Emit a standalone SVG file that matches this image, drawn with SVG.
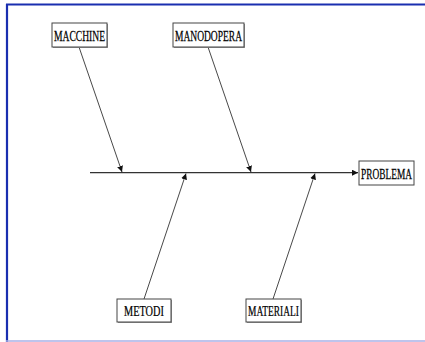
<svg xmlns="http://www.w3.org/2000/svg" width="425" height="342" viewBox="0 0 425 342">
<style>
.box{fill:#fff;stroke:#444;stroke-width:1}
.shadow{fill:#9a9a9a}
.lbl{font-family:"Liberation Serif","Times New Roman",serif;font-size:15px;fill:#000;stroke:#000;stroke-width:0.25;text-anchor:middle}
.conn{stroke:#333;stroke-width:0.9;fill:none}
.spine{stroke:#333;stroke-width:1.3;fill:none}
</style>
<defs>
<marker id="ah" viewBox="0 0 10 10" refX="10" refY="5" markerWidth="6" markerHeight="6" markerUnits="userSpaceOnUse" orient="auto">
<path d="M0,0 L10,5 L0,10 z" fill="#111"/>
</marker>
</defs>
<rect x="0" y="0" width="425" height="342" fill="#fff"/>
<line x1="7" y1="4" x2="7" y2="342" stroke="#1a2fb0" stroke-width="2.2"/>
<line x1="6" y1="4.5" x2="425" y2="4.5" stroke="#1a2fb0" stroke-width="2"/>
<line x1="6" y1="341" x2="425" y2="341" stroke="#a8b0e6" stroke-width="1.5"/>
<g id="connectors">
<line class="spine" x1="90" y1="172.7" x2="358" y2="172.7" marker-end="url(#ah)"/>
<line class="conn" x1="79" y1="47" x2="122" y2="172" marker-end="url(#ah)"/>
<line class="conn" x1="208" y1="47" x2="251" y2="172" marker-end="url(#ah)"/>
<line class="conn" x1="144" y1="299" x2="186" y2="173.5" marker-end="url(#ah)"/>
<line class="conn" x1="273" y1="299" x2="315" y2="173.5" marker-end="url(#ah)"/>
</g>
<g id="macchine">
<rect class="shadow" x="53" y="24" width="55" height="24"/>
<rect class="box" x="52" y="23" width="55" height="24"/>
<text class="lbl" transform="translate(79.5,40.8) scale(0.64,1)">MACCHINE</text>
</g>
<g id="manodopera">
<rect class="shadow" x="174" y="24" width="71" height="24"/>
<rect class="box" x="173" y="23" width="71" height="24"/>
<text class="lbl" transform="translate(208.5,40.8) scale(0.633,1)">MANODOPERA</text>
</g>
<g id="problema">
<rect class="box" x="359" y="161" width="55" height="24"/>
<text class="lbl" transform="translate(386.5,178.5) scale(0.624,1)">PROBLEMA</text>
</g>
<g id="metodi">
<rect class="shadow" x="118" y="300" width="54" height="23"/>
<rect class="box" x="117" y="299" width="54" height="23"/>
<text class="lbl" transform="translate(144,316.3) scale(0.686,1)">METODI</text>
</g>
<g id="materiali">
<rect class="shadow" x="247" y="300" width="55" height="23"/>
<rect class="box" x="246" y="299" width="55" height="23"/>
<text class="lbl" transform="translate(273.5,316.3) scale(0.63,1)">MATERIALI</text>
</g>
</svg>
